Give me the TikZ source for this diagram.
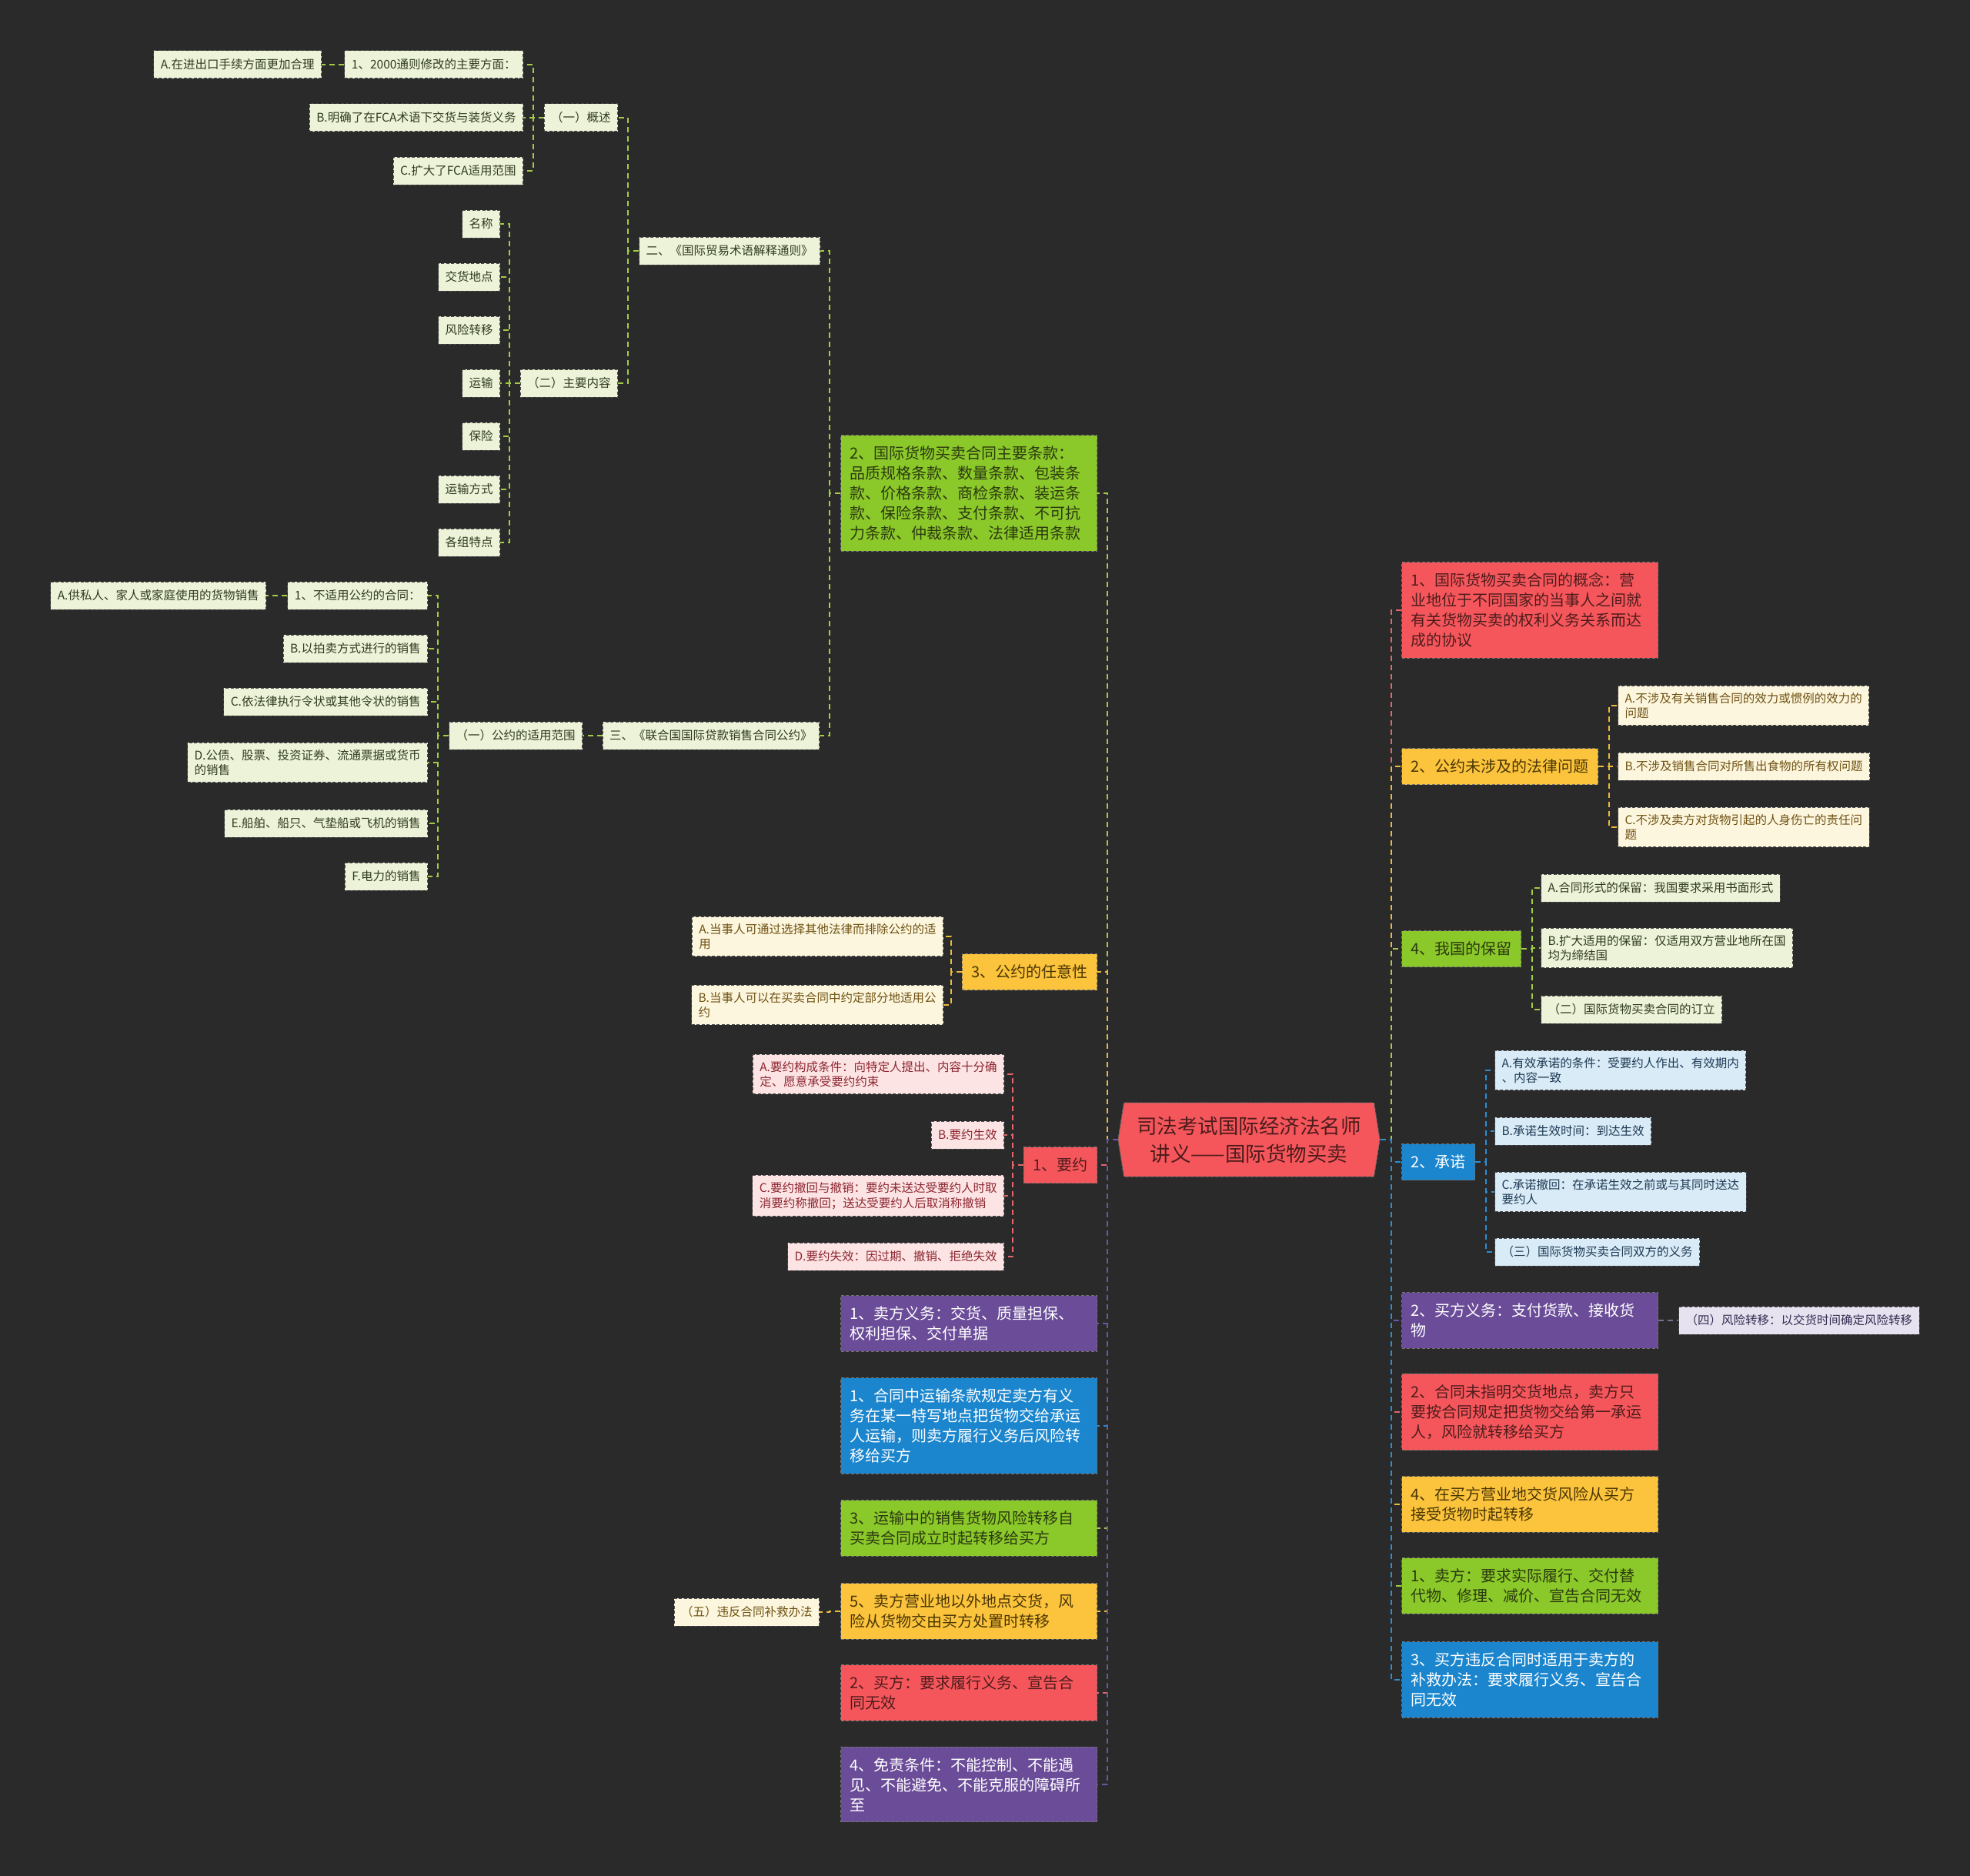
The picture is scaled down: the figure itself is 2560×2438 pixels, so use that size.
\documentclass[tikz,border=0pt]{standalone}
\usepackage{fontspec}
\newfontfamily\cjk{Noto Sans CJK SC}
\usetikzlibrary{shapes.symbols}
\definecolor{bg}{HTML}{2A2A2A}
\definecolor{cRed}{HTML}{F5565B}
\definecolor{cYel}{HTML}{FCC43C}
\definecolor{cGrn}{HTML}{8BC82A}
\definecolor{cBlu}{HTML}{1B86CE}
\definecolor{cPur}{HTML}{6A4C98}
\definecolor{lGrn}{HTML}{EDF3D8}
\definecolor{lYel}{HTML}{FDF6DE}
\definecolor{lRed}{HTML}{FDE4E4}
\definecolor{lBlu}{HTML}{D8EBF6}
\definecolor{lPur}{HTML}{E6E2F0}
\definecolor{kGrn}{HTML}{A3CC45}
\definecolor{kYel}{HTML}{EDBA3A}
\definecolor{kRed}{HTML}{E5656B}
\definecolor{kBlu}{HTML}{2A8FD5}
\definecolor{kPur}{HTML}{6E56A6}
\definecolor{kPurG}{HTML}{7B6F8E}
\definecolor{tLG}{HTML}{2F3A1E}
\definecolor{tLY}{HTML}{6E5212}
\definecolor{tLR}{HTML}{8C2630}
\definecolor{tLB}{HTML}{1F3A55}
\definecolor{tLP}{HTML}{352C50}
\definecolor{tGD}{HTML}{2B3A10}
\definecolor{tYD}{HTML}{4A3605}
\definecolor{tRD}{HTML}{4E1C1C}
\tikzset{
  boxbase/.style={draw=black!70, dash pattern=on 4pt off 2.5pt, line width=1pt, align=left},
  leaf/.style={boxbase, font=\cjk\fontsize{15.5}{19.5}\selectfont, inner xsep=9pt, inner ysep=9pt, minimum height=36pt},
  lg/.style={leaf, fill=lGrn, text=tLG},
  ly/.style={leaf, fill=lYel, text=tLY},
  lr/.style={leaf, fill=lRed, text=tLR},
  lb/.style={leaf, fill=lBlu, text=tLB},
  lp/.style={leaf, fill=lPur, text=tLP},
  midbox/.style={boxbase, draw=black!55, font=\cjk\fontsize{20}{26}\selectfont, inner xsep=12pt, inner ysep=13pt, minimum height=47pt},
  bigbox/.style={midbox, text width=309pt, inner ysep=14pt},
  fG/.style={fill=cGrn, text=tGD},
  fY/.style={fill=cYel, text=tYD},
  fR/.style={fill=cRed, text=tRD},
  fB/.style={fill=cBlu, text=white},
  fP/.style={fill=cPur, text=white},
  conn/.style={line width=2pt, dash pattern=on 7pt off 5pt},
}
\newcommand\lconn[3]{\draw[conn,#1] (#2.west) -- ++(-14,0) |- (#3.east);}
\newcommand\rconn[3]{\draw[conn,#1] (#2.east) -- ++(14,0) |- (#3.west);}
\begin{document}
\begin{tikzpicture}[x=1pt,y=-1pt]
\fill[bg] (0,0) rectangle (2560,2438);
\useasboundingbox (0,0) rectangle (2560,2438);

% root
\node[signal, signal to=west and east, signal pointer angle=162, fill=cRed, draw=black!55, dash pattern=on 4pt off 2.5pt, line width=1pt,
  minimum width=340pt, minimum height=96pt, inner xsep=4pt, font=\cjk\fontsize{26.5}{36}\selectfont, align=center, text=tRD] (root) at (1623,1481)
  {司法考试国际经济法名师\\讲义——国际货物买卖};

% ---------- left: top subtree ----------
\node[bigbox, fG, anchor=east] (tiaokuan) at (1426,641) {2、国际货物买卖合同主要条款：\\品质规格条款、数量条款、包装条\\款、价格条款、商检条款、装运条\\款、保险条款、支付条款、不可抗\\力条款、仲裁条款、法律适用条款};
\node[lg, anchor=east] (tongze) at (1066,326) {二、《国际贸易术语解释通则》};
\node[lg, anchor=east] (gaishu) at (803,153) {（一）概述};
\node[lg, anchor=east] (n2000) at (680,84) {1、2000通则修改的主要方面：};
\node[lg, anchor=east] (fcaA) at (418,84) {A.在进出口手续方面更加合理};
\node[lg, anchor=east] (fcaB) at (680,153) {B.明确了在FCA术语下交货与装货义务};
\node[lg, anchor=east] (fcaC) at (680,222) {C.扩大了FCA适用范围};
\node[lg, anchor=east] (zhuyao) at (803,498) {（二）主要内容};
\node[lg, anchor=east] (mc) at (650,291) {名称};
\node[lg, anchor=east] (jhdd) at (650,360) {交货地点};
\node[lg, anchor=east] (fxzy) at (650,429) {风险转移};
\node[lg, anchor=east] (ys) at (650,498) {运输};
\node[lg, anchor=east] (bx) at (650,567) {保险};
\node[lg, anchor=east] (ysfs) at (650,636) {运输方式};
\node[lg, anchor=east] (gztd) at (650,705) {各组特点};
\node[lg, anchor=east] (gongyue) at (1065,956) {三、《联合国国际贷款销售合同公约》};
\node[lg, anchor=east] (fanwei) at (757,956) {（一）公约的适用范围};
\node[lg, anchor=east] (bsy) at (556,774) {1、不适用公约的合同：};
\node[lg, anchor=east] (exA) at (346,774) {A.供私人、家人或家庭使用的货物销售};
\node[lg, anchor=east] (exB) at (556,843) {B.以拍卖方式进行的销售};
\node[lg, anchor=east] (exC) at (556,912) {C.依法律执行令状或其他令状的销售};
\node[lg, anchor=east] (exD) at (556,991) {D.公债、股票、投资证券、流通票据或货币\\的销售};
\node[lg, anchor=east] (exE) at (556,1070) {E.船舶、船只、气垫船或飞机的销售};
\node[lg, anchor=east] (exF) at (556,1139) {F.电力的销售};

% ---------- left: middle ----------
\node[midbox, fY, anchor=east] (renyi) at (1426,1263) {3、公约的任意性};
\node[ly, anchor=east] (ryA) at (1226,1217) {A.当事人可通过选择其他法律而排除公约的适\\用};
\node[ly, anchor=east] (ryB) at (1226,1306) {B.当事人可以在买卖合同中约定部分地适用公\\约};
\node[midbox, fR, anchor=east] (yaoyue) at (1426,1514) {1、要约};
\node[lr, anchor=east] (yyA) at (1305,1396) {A.要约构成条件：向特定人提出、内容十分确\\定、愿意承受要约约束};
\node[lr, anchor=east] (yyB) at (1305,1475) {B.要约生效};
\node[lr, anchor=east] (yyC) at (1305,1554) {C.要约撤回与撤销：要约未送达受要约人时取\\消要约称撤回；送达受要约人后取消称撤销};
\node[lr, anchor=east] (yyD) at (1305,1633) {D.要约失效：因过期、撤销、拒绝失效};

% ---------- left: bottom ----------
\node[bigbox, fP, anchor=east] (mfyw) at (1426,1720) {1、卖方义务：交货、质量担保、\\权利担保、交付单据};
\node[bigbox, fB, anchor=east] (ystk) at (1426,1853) {1、合同中运输条款规定卖方有义\\务在某一特写地点把货物交给承运\\人运输，则卖方履行义务后风险转\\移给买方};
\node[bigbox, fG, anchor=east] (yszx) at (1426,1986) {3、运输中的销售货物风险转移自\\买卖合同成立时起转移给买方};
\node[bigbox, fY, anchor=east] (mfyy) at (1426,2094) {5、卖方营业地以外地点交货，风\\险从货物交由买方处置时转移};
\node[ly, anchor=east] (wufa) at (1065,2095) {（五）违反合同补救办法};
\node[bigbox, fR, anchor=east] (mfyq) at (1426,2200) {2、买方：要求履行义务、宣告合\\同无效};
\node[bigbox, fP, anchor=east] (mztj) at (1426,2319) {4、免责条件：不能控制、不能遇\\见、不能避免、不能克服的障碍所\\至};

% ---------- right ----------
\node[bigbox, fR, anchor=west] (gainian) at (1821,793) {1、国际货物买卖合同的概念：营\\业地位于不同国家的当事人之间就\\有关货物买卖的权利义务关系而达\\成的协议};
\node[midbox, fY, anchor=west] (weisheji) at (1821,996) {2、公约未涉及的法律问题};
\node[ly, anchor=west] (wsA) at (2102,917) {A.不涉及有关销售合同的效力或惯例的效力的\\问题};
\node[ly, anchor=west] (wsB) at (2102,996) {B.不涉及销售合同对所售出食物的所有权问题};
\node[ly, anchor=west] (wsC) at (2102,1075) {C.不涉及卖方对货物引起的人身伤亡的责任问\\题};
\node[midbox, fG, anchor=west] (baoliu) at (1821,1233) {4、我国的保留};
\node[lg, anchor=west] (blA) at (2002,1154) {A.合同形式的保留：我国要求采用书面形式};
\node[lg, anchor=west] (blB) at (2002,1232) {B.扩大适用的保留：仅适用双方营业地所在国\\均为缔结国};
\node[lg, anchor=west] (dingli) at (2002,1312) {（二）国际货物买卖合同的订立};
\node[midbox, fB, anchor=west] (chengnuo) at (1821,1510) {2、承诺};
\node[lb, anchor=west] (cnA) at (1942,1391) {A.有效承诺的条件：受要约人作出、有效期内\\、内容一致};
\node[lb, anchor=west] (cnB) at (1942,1470) {B.承诺生效时间：到达生效};
\node[lb, anchor=west] (cnC) at (1942,1549) {C.承诺撤回：在承诺生效之前或与其同时送达\\要约人};
\node[lb, anchor=west] (yiwu) at (1942,1627) {（三）国际货物买卖合同双方的义务};
\node[bigbox, fP, anchor=west] (mfyw2) at (1821,1716) {2、买方义务：支付货款、接收货\\物};
\node[lp, anchor=west] (fxzy2) at (2181,1716) {（四）风险转移：以交货时间确定风险转移};
\node[bigbox, fR, anchor=west] (wzm) at (1821,1835) {2、合同未指明交货地点，卖方只\\要按合同规定把货物交给第一承运\\人，风险就转移给买方};
\node[bigbox, fY, anchor=west] (mfyyd) at (1821,1955) {4、在买方营业地交货风险从买方\\接受货物时起转移};
\node[bigbox, fG, anchor=west] (mfyq2) at (1821,2061) {1、卖方：要求实际履行、交付替\\代物、修理、减价、宣告合同无效};
\node[bigbox, fB, anchor=west] (mfwf) at (1821,2183) {3、买方违反合同时适用于卖方的\\补救办法：要求履行义务、宣告合\\同无效};

% ---------- connectors: root ----------
\lconn{kGrn}{root}{tiaokuan}
\lconn{kYel}{root}{renyi}
\lconn{kRed}{root}{yaoyue}
\lconn{kPur}{root}{mfyw}
\lconn{kBlu}{root}{ystk}
\lconn{kGrn}{root}{yszx}
\lconn{kYel}{root}{mfyy}
\lconn{kRed}{root}{mfyq}
\lconn{kPur}{root}{mztj}
\rconn{kRed}{root}{gainian}
\rconn{kYel}{root}{weisheji}
\rconn{kGrn}{root}{baoliu}
\rconn{kBlu}{root}{chengnuo}
\rconn{kPur}{root}{mfyw2}
\rconn{kRed}{root}{wzm}
\rconn{kYel}{root}{mfyyd}
\rconn{kGrn}{root}{mfyq2}
\rconn{kBlu}{root}{mfwf}

% ---------- connectors: subtrees ----------
\lconn{kGrn}{tiaokuan}{tongze}
\lconn{kGrn}{tiaokuan}{gongyue}
\lconn{kGrn}{tongze}{gaishu}
\lconn{kGrn}{tongze}{zhuyao}
\lconn{kGrn}{gaishu}{n2000}
\lconn{kGrn}{gaishu}{fcaB}
\lconn{kGrn}{gaishu}{fcaC}
\lconn{kGrn}{n2000}{fcaA}
\foreach \c in {mc,jhdd,fxzy,ys,bx,ysfs,gztd} {\lconn{kGrn}{zhuyao}{\c}}
\lconn{kGrn}{gongyue}{fanwei}
\foreach \c in {bsy,exB,exC,exD,exE,exF} {\lconn{kGrn}{fanwei}{\c}}
\lconn{kGrn}{bsy}{exA}
\lconn{kYel}{renyi}{ryA}
\lconn{kYel}{renyi}{ryB}
\foreach \c in {yyA,yyB,yyC,yyD} {\lconn{kRed}{yaoyue}{\c}}
\lconn{kYel}{mfyy}{wufa}
\foreach \c in {wsA,wsB,wsC} {\rconn{kYel}{weisheji}{\c}}
\foreach \c in {blA,blB,dingli} {\rconn{kGrn}{baoliu}{\c}}
\foreach \c in {cnA,cnB,cnC,yiwu} {\rconn{kBlu}{chengnuo}{\c}}
\rconn{kPurG}{mfyw2}{fxzy2}
\end{tikzpicture}
\end{document}
